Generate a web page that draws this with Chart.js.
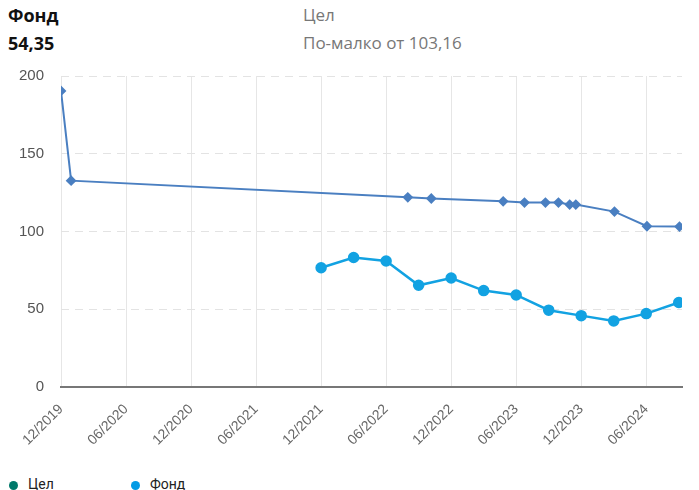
<!DOCTYPE html>
<html>
<head>
<meta charset="utf-8">
<script src="https://cdn.jsdelivr.net/npm/chart.js@4.4.1/dist/chart.umd.min.js"></script>
<style>
  body { margin: 0; background: #fff; width: 699px; height: 490px; position: relative; overflow: hidden; font-family: "Open Sans", sans-serif; }
  .hdr { position: absolute; font-size: 17px; line-height: 20px; }
  .bold { font-weight: 700; color: #111; font-size: 18px; }
  .grey { color: #777; }
  #wrap { position: absolute; left: 0; top: 50px; width: 699px; height: 410px; }
  .legend { position: absolute; top: 476px; font-family: Roboto, sans-serif; font-size: 14px; color: #222; }
  .legend span.dot { display: inline-block; width: 9px; height: 9px; border-radius: 50%; margin-right: 10px; vertical-align: -1px; }
</style>
</head>
<body>
<div class="hdr bold" style="left:8px; top:5px;">Фонд</div>
<div class="hdr bold" style="left:8px; top:33px;">54,35</div>
<div class="hdr grey" style="left:303px; top:5px;">Цел</div>
<div class="hdr grey" style="left:303px; top:33px;">По-малко от 103,16</div>
<div id="wrap"><canvas id="chart"></canvas></div>
<div class="legend" style="left:9px;"><span class="dot" style="background:#00796b"></span>Цел</div>
<div class="legend" style="left:131px;"><span class="dot" style="background:#039be5"></span>Фонд</div>
<script>
const targetDates = ['2019-12-01', '2019-12-29', '2022-08-01', '2022-10-06', '2023-04-25', '2023-06-24', '2023-08-22', '2023-09-28', '2023-10-29', '2023-11-16', '2024-03-03', '2024-06-03', '2024-09-03'];
const targetValues = [190.4, 132.7, 122.0, 121.2, 119.4, 118.6, 118.6, 118.6, 117.3, 117.3, 112.8, 103.4, 103.16];

const fundDates = ['2021-12-01', '2022-03-01', '2022-06-01', '2022-09-01', '2022-12-01', '2023-03-01', '2023-06-01', '2023-09-01', '2023-12-01', '2024-03-01', '2024-06-01', '2024-09-01'];
const fundValues = [76.7, 83.3, 81.0, 65.4, 70.1, 62.0, 59.2, 49.4, 45.9, 42.5, 47.2, 54.35];

// months counted from 12/2019
function toMonths(s) {
  const [y, m, d] = s.split('-').map(Number);
  return (y - 2019) * 12 + (m - 12) + (d - 1) / 30;
}
function monthLabel(v) {
  const total = 11 + Math.round(v);
  const year = 2019 + Math.floor(total / 12);
  const month = (total % 12) + 1;
  return String(month).padStart(2, '0') + '/' + year;
}

const targetPoints = targetDates.map((d, i) => ({ x: toMonths(d), y: targetValues[i] }));
const fundPoints = fundDates.map((d, i) => ({ x: toMonths(d), y: fundValues[i] }));

new Chart(document.getElementById('chart'), {
  type: 'line',
  data: {
    datasets: [
      {
        label: 'Цел',
        data: targetPoints,
        borderColor: '#4a7fc1',
        backgroundColor: '#4a7fc1',
        borderWidth: 2,
        pointStyle: 'rectRot',
        pointRadius: 4,
        tension: 0
      },
      {
        label: 'Фонд',
        data: fundPoints,
        borderColor: '#12a2e2',
        backgroundColor: '#12a2e2',
        borderWidth: 2.5,
        pointStyle: 'circle',
        pointRadius: 4.5,
        tension: 0
      }
    ]
  },
  options: {
    responsive: true,
    maintainAspectRatio: false,
    animation: false,
    layout: { padding: { top: 7, right: 17, left: 0, bottom: 0 } },
    plugins: {
      legend: { display: false },
      tooltip: { enabled: false }
    },
    scales: {
      x: {
        type: 'linear',
        min: 0,
        max: 57.3,
        afterFit: s => { s.height = 73; },
        border: { display: true, color: '#777', width: 2 },
        grid: { color: '#e6e6e6', drawTicks: false },
        ticks: {
          stepSize: 6,
          includeBounds: false,
          autoSkip: false,
          maxRotation: 45,
          minRotation: 45,
          padding: 14,
          color: '#666',
          font: { family: 'Liberation Sans', size: 14 },
          callback: v => monthLabel(v)
        }
      },
      y: {
        min: 0,
        max: 200,
        afterFit: s => { s.width = 61; },
        border: { display: false, dash: [8, 6] },
        grid: { color: '#e3e3e3', drawTicks: false },
        ticks: {
          stepSize: 50,
          padding: 17,
          color: '#555',
          font: { family: 'Liberation Sans', size: 15 }
        }
      }
    }
  }
});
</script>
</body>
</html>
